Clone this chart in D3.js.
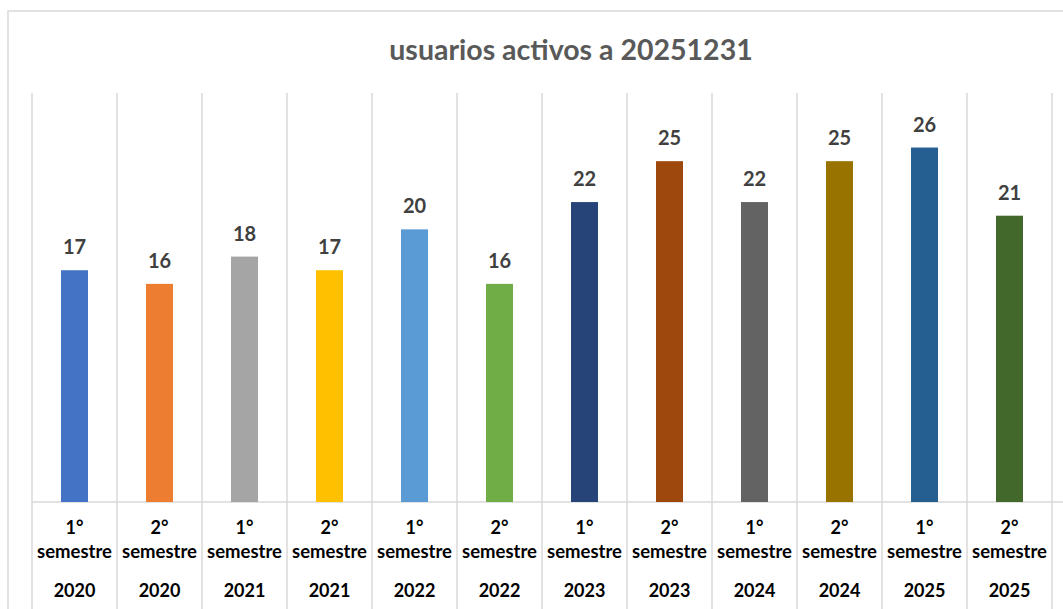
<!DOCTYPE html>
<html>
<head>
<meta charset="utf-8">
<script src="https://cdn.jsdelivr.net/npm/d3@7"></script>
<style>
  body { margin: 0; background: #fff; }
  text { font-family: Lato, "Open Sans", sans-serif; font-weight: bold; }
</style>
</head>
<body>
<div id="chart"></div>
<script>
const semestres = ["1°", "2°", "1°", "2°", "1°", "2°", "1°", "2°", "1°", "2°", "1°", "2°"];
const years = ["2020", "2020", "2021", "2021", "2022", "2022", "2023", "2023", "2024", "2024", "2025", "2025"];
const values = [17, 16, 18, 17, 20, 16, 22, 25, 22, 25, 26, 21];
const colors = ["#4472C4", "#ED7D31", "#A5A5A5", "#FFC000", "#5B9BD5", "#70AD47",
                "#264478", "#9E480E", "#636363", "#997300", "#255E91", "#43682B"];

const W = 1063, H = 609;
const plotLeft = 32, plotRight = 1052, plotTop = 93, base = 502;

const svg = d3.select("#chart").append("svg")
    .attr("width", W)
    .attr("height", H);

// chart border
svg.append("rect")
    .attr("x", 8).attr("y", 11)
    .attr("width", 1200).attr("height", 700)
    .attr("fill", "none")
    .attr("stroke", "#d9d9d9")
    .attr("stroke-width", 1.5);

svg.append("text")
    .attr("x", 571).attr("y", 60)
    .attr("text-anchor", "middle")
    .attr("fill", "#595959")
    .style("font-size", "28.5px")
    .text("usuarios activos a 20251231");

const idx = d3.range(values.length);
const x = d3.scaleBand()
    .domain(idx)
    .range([plotLeft, plotRight])
    .paddingInner(0)
    .paddingOuter(0);

const y = d3.scaleLinear()
    .domain([0, 30])
    .range([base, plotTop]);

// vertical separators
svg.selectAll("line.sep")
    .data(d3.range(values.length + 1))
    .enter()
    .append("line")
    .attr("x1", i => plotLeft + i * x.bandwidth())
    .attr("x2", i => plotLeft + i * x.bandwidth())
    .attr("y1", plotTop)
    .attr("y2", H)
    .attr("stroke", "#d9d9d9")
    .attr("stroke-width", 1.5);

// baseline
svg.append("line")
    .attr("x1", plotLeft).attr("x2", W)
    .attr("y1", base).attr("y2", base)
    .attr("stroke", "#d9d9d9")
    .attr("stroke-width", 1.5);

const barW = 27;
svg.selectAll("rect.bar")
    .data(idx)
    .enter()
    .append("rect")
    .attr("x", i => x(i) + x.bandwidth() / 2 - barW / 2)
    .attr("y", i => y(values[i]))
    .attr("width", barW)
    .attr("height", i => base - y(values[i]))
    .attr("fill", i => colors[i]);

svg.selectAll("text.val")
    .data(idx)
    .enter()
    .append("text")
    .attr("x", i => x(i) + x.bandwidth() / 2)
    .attr("y", i => y(values[i]) - 16)
    .attr("text-anchor", "middle")
    .attr("fill", "#404040")
    .style("font-size", "20px")
    .text(i => values[i]);

// category labels
const lab = svg.selectAll("g.lab")
    .data(idx)
    .enter()
    .append("g")
    .attr("transform", i => `translate(${x(i) + x.bandwidth() / 2},0)`);

lab.append("text")
    .attr("y", 534)
    .attr("text-anchor", "middle")
    .attr("fill", "#000")
    .style("font-size", "18px")
    .text(i => semestres[i]);

lab.append("text")
    .attr("y", 558)
    .attr("text-anchor", "middle")
    .attr("fill", "#000")
    .style("font-size", "18.5px")
    .text("semestre");

lab.append("text")
    .attr("y", 597)
    .attr("text-anchor", "middle")
    .attr("fill", "#000")
    .style("font-size", "18px")
    .text(i => years[i]);
</script>
</body>
</html>
